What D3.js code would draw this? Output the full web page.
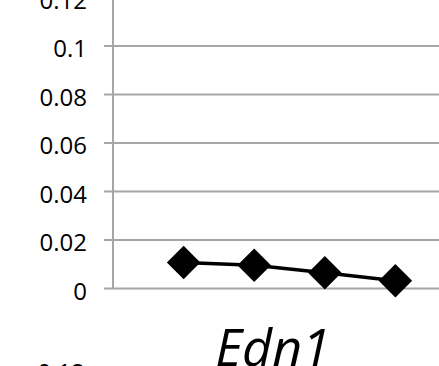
<!DOCTYPE html>
<html>
<head>
<meta charset="utf-8">
<script src="https://cdn.jsdelivr.net/npm/d3@7"></script>
<style>
  html, body { margin: 0; padding: 0; background: #fff; overflow: hidden; }
  svg { display: block; }
  text { font-family: "Open Sans", sans-serif; fill: #000; }
</style>
</head>
<body>
<svg id="chart" width="439" height="366"></svg>
<script>
// Data
const categories = ["T1", "T2", "T3", "T4"];
const values = [0.0107, 0.0096, 0.0065, 0.0032];
const yTicks = [0, 0.02, 0.04, 0.06, 0.08, 0.1, 0.12];
const yTickLabels = ["0", "0.02", "0.04", "0.06", "0.08", "0.1", "0.12"];
const geneLabel = "Edn1";
const nextChartTopLabel = "0.12";

const svg = d3.select("#chart");
const axisX = 113;
const gridColor = "#a6a6a6";

const y = d3.scaleLinear().domain([0, 0.12]).range([288.5, -2.5]);
const x = d3.scalePoint().domain(categories).range([axisX, 466]).padding(1);

// Gridlines + tick stubs
svg.append("g").selectAll("line")
  .data(yTicks)
  .join("line")
  .attr("x1", axisX - 9)
  .attr("x2", 460)
  .attr("y1", d => y(d))
  .attr("y2", d => y(d))
  .attr("stroke", gridColor)
  .attr("stroke-width", 2);

// Vertical axis
svg.append("line")
  .attr("x1", axisX).attr("x2", axisX)
  .attr("y1", y(0.12) - 10).attr("y2", y(0))
  .attr("stroke", gridColor)
  .attr("stroke-width", 2);

// Tick labels
svg.append("g").selectAll("text")
  .data(yTicks)
  .join("text")
  .attr("x", 87)
  .attr("y", d => y(d) + 11)
  .attr("text-anchor", "end")
  .attr("font-size", 24)
  .text((d, i) => yTickLabels[i]);

// Line
const line = d3.line()
  .x((d, i) => x(categories[i]))
  .y(d => y(d));
svg.append("path")
  .datum(values)
  .attr("d", line)
  .attr("fill", "none")
  .attr("stroke", "#000")
  .attr("stroke-width", 3.5);

// Diamond markers
const sym = d3.symbol().type(d3.symbolSquare).size(560);
svg.append("g").selectAll("path")
  .data(values)
  .join("path")
  .attr("d", sym)
  .attr("transform", (d, i) => `translate(${x(categories[i])},${y(d)}) rotate(45)`)
  .attr("fill", "#000");

// Gene label
svg.append("text")
  .attr("x", 273)
  .attr("y", 366)
  .attr("text-anchor", "middle")
  .attr("font-size", 52)
  .attr("font-style", "italic")
  .text(geneLabel);

// Partial label of next chart (cropped)
svg.append("text")
  .attr("x", 85)
  .attr("y", 381)
  .attr("text-anchor", "end")
  .attr("font-size", 24)
  .text(nextChartTopLabel);
</script>
</body>
</html>
